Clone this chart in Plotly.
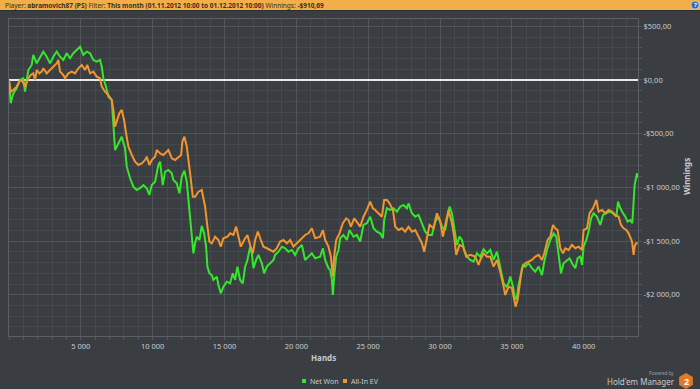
import plotly.graph_objects as go

# ---------------- data ----------------
net_hands = [0,118,300,536,766,997,1114,1344,1581,1692,1929,2277,2389,2625,2855,3085,3322,3552,3781,4018,4248,4478,4715,4944,5174,5411,5641,5871,6107,6337,6456,6567,6755,6915,7152,7264,7382,7500,7612,7848,8079,8197,8427,8657,8894,9123,9353,9589,9770,9938,10168,10397,10516,10704,10864,11094,11331,11442,11679,11860,12027,12208,12375,12487,12605,12723,12835,12953,13071,13252,13420,13580,13719,13810,13949,14116,14227,14464,14575,14742,14924,15161,15390,15578,15739,15899,16087,16275,16435,16595,16783,16901,17013,17201,17362,17598,17758,17946,18176,18406,18524,18754,18991,19220,19450,19687,19917,20147,20384,20613,20843,21080,21310,21658,21846,22006,22236,22354,22473,22542,22633,22772,22932,23051,23281,23518,23699,23977,24214,24444,24673,24910,25140,25370,25606,25836,26024,26115,26303,26533,26762,26999,27229,27459,27695,27807,28044,28274,28503,28740,28970,29200,29436,29666,29896,30133,30363,30523,30663,30829,30990,31178,31359,31526,31686,31874,32104,32334,32570,32800,33030,33267,33497,33727,33963,34075,34242,34423,34611,34771,34890,35078,35238,35356,35467,35586,35774,35934,36164,36401,36630,36860,37097,37257,37445,37675,37905,38093,38253,38420,38601,38838,39019,39186,39416,39576,39764,39883,39994,40182,40342,40510,40691,40928,41157,41345,41575,41805,42041,42271,42390,42550,42738,42898,43058,43246,43385,43476,43546,43615,43713,43760]
net_won = [0,-217,-124,-78,0,16,-109,93,140,233,155,249,264,217,155,217,264,217,186,249,202,249,279,310,233,264,249,186,171,186,124,16,-62,-155,-186,-435,-652,-621,-589,-528,-636,-807,-915,-993,-1024,-1008,-978,-1008,-1071,-978,-947,-791,-761,-978,-854,-838,-869,-931,-962,-1055,-900,-845,-947,-1117,-1334,-1490,-1614,-1521,-1459,-1490,-1359,-1428,-1552,-1738,-1800,-1816,-1862,-1831,-1909,-1986,-1924,-1878,-1893,-1800,-1862,-1738,-1862,-1893,-1738,-1676,-1552,-1614,-1753,-1676,-1629,-1707,-1800,-1738,-1707,-1676,-1629,-1599,-1552,-1567,-1599,-1583,-1629,-1567,-1536,-1676,-1645,-1614,-1660,-1645,-1567,-1676,-1753,-1769,-1862,-2002,-1831,-1645,-1583,-1474,-1443,-1490,-1397,-1459,-1443,-1505,-1350,-1334,-1273,-1381,-1412,-1428,-1474,-1304,-1195,-1210,-1195,-1226,-1180,-1164,-1195,-1148,-1241,-1273,-1257,-1334,-1412,-1443,-1443,-1319,-1273,-1366,-1397,-1273,-1180,-1241,-1397,-1536,-1459,-1490,-1583,-1645,-1676,-1692,-1614,-1645,-1576,-1614,-1583,-1676,-1599,-1676,-1800,-1893,-1924,-1893,-1831,-1924,-2048,-2018,-1909,-1846,-1722,-1738,-1707,-1753,-1785,-1738,-1816,-1692,-1583,-1490,-1428,-1459,-1645,-1800,-1707,-1676,-1660,-1707,-1753,-1660,-1645,-1722,-1552,-1490,-1412,-1288,-1241,-1273,-1350,-1257,-1241,-1226,-1241,-1273,-1133,-1195,-1241,-1273,-1319,-1304,-1334,-1117,-978,-931,-869,-910.69]

ev_hands = [0,118,300,536,766,954,1114,1344,1511,1692,1811,1929,2110,2277,2389,2625,2855,3085,3322,3433,3552,3781,3900,4130,4366,4596,4826,5063,5293,5453,5641,5871,6107,6337,6456,6685,6915,7152,7264,7382,7542,7681,7848,8009,8148,8308,8545,8775,9004,9241,9471,9589,9770,9938,10168,10286,10516,10745,11094,11331,11560,11790,11978,12069,12208,12375,12487,12605,12793,12953,13183,13420,13531,13649,13810,13949,14116,14346,14575,14742,14924,15203,15390,15620,15808,15969,16136,16365,16595,16783,16971,17131,17319,17528,17709,17946,18176,18406,18643,18873,19102,19339,19569,19799,20035,20384,20613,20843,21080,21310,21658,21846,22006,22236,22403,22542,22633,22772,23002,23239,23469,23629,23796,24026,24214,24444,24673,24910,25140,25328,25488,25718,25955,26115,26303,26484,26721,26881,27111,27348,27577,27807,28044,28274,28503,28740,28900,29088,29269,29547,29784,30014,30202,30363,30593,30829,30990,31129,31359,31596,31826,32104,32452,32682,32800,33030,33267,33497,33727,33963,34193,34423,34541,34771,35008,35168,35259,35398,35537,35705,35934,36164,36401,36630,36860,37097,37257,37487,37675,37863,38023,38184,38371,38559,38720,38950,39186,39416,39646,39883,39994,40231,40412,40649,40878,41038,41275,41505,41735,41971,42201,42431,42598,42779,42967,43127,43246,43364,43476,43546,43643,43760]
allin_ev = [0,-109,-93,-62,0,-16,-62,16,47,62,0,93,62,78,109,62,93,124,155,186,78,47,16,62,78,62,109,140,93,140,62,78,31,16,-62,-109,-140,-186,-279,-435,-372,-310,-279,-372,-496,-621,-698,-761,-791,-776,-745,-714,-791,-745,-714,-652,-683,-698,-652,-729,-745,-714,-698,-574,-528,-621,-776,-869,-1087,-1087,-1040,-1024,-1101,-1180,-1366,-1506,-1521,-1459,-1490,-1552,-1474,-1459,-1428,-1443,-1366,-1459,-1552,-1490,-1443,-1536,-1614,-1490,-1412,-1490,-1552,-1567,-1583,-1599,-1567,-1505,-1490,-1521,-1490,-1552,-1521,-1474,-1443,-1428,-1381,-1474,-1459,-1397,-1490,-1552,-1645,-1831,-1645,-1490,-1428,-1334,-1288,-1304,-1366,-1288,-1319,-1366,-1273,-1210,-1133,-1195,-1210,-1241,-1273,-1117,-1117,-1148,-1210,-1366,-1397,-1381,-1412,-1366,-1412,-1397,-1459,-1521,-1599,-1459,-1350,-1381,-1241,-1319,-1459,-1350,-1210,-1334,-1459,-1629,-1536,-1552,-1645,-1629,-1645,-1722,-1676,-1614,-1645,-1645,-1738,-1676,-1785,-1924,-2002,-1924,-1939,-2048,-2111,-2048,-1893,-1753,-1707,-1692,-1676,-1645,-1629,-1676,-1614,-1490,-1459,-1350,-1381,-1397,-1567,-1614,-1567,-1583,-1536,-1567,-1552,-1583,-1397,-1381,-1241,-1195,-1117,-1226,-1210,-1241,-1210,-1226,-1257,-1273,-1350,-1381,-1397,-1428,-1474,-1505,-1629,-1552,-1521,-1521]

series_names = ["Net Won", "All-In EV"]
x_tickvals = [5000, 10000, 15000, 20000, 25000, 30000, 35000, 40000]
x_ticktext = ["5 000", "10 000", "15 000", "20 000", "25 000", "30 000", "35 000", "40 000"]
y_tickvals = [500, 0, -500, -1000, -1500, -2000]
y_ticktext = ["$500,00", "$0,00", "-$500,00", "-$1 000,00", "-$1 500,00", "-$2 000,00"]

# ---------------- style ----------------
BG = "#3a3e42"
GREEN = "#35e62c"
ORANGE = "#f2952e"
TXT = "#c9cbcd"
FONT = "Noto Sans"
W, H = 700, 389
L, R, T, B = 9, 62, 19, 53
PW = W - L - R
PH = H - T - B
BOTTOM_PX = H - B     # pixel y of plot bottom edge

fig = go.Figure()
fig.add_trace(go.Scatter(x=net_hands, y=net_won, mode="lines", name=series_names[0],
                         line=dict(color=GREEN, width=2), hoverinfo="skip"))
fig.add_trace(go.Scatter(x=ev_hands, y=allin_ev, mode="lines", name=series_names[1],
                         line=dict(color=ORANGE, width=2), hoverinfo="skip"))

grid_major = "#51565b"
grid_minor = "#45494e"

fig.update_layout(
    width=W, height=H,
    margin=dict(l=L, r=R, t=T, b=B, pad=0),
    paper_bgcolor=BG, plot_bgcolor=BG,
    font=dict(family=FONT, size=8, color=TXT),
    showlegend=False,
    xaxis=dict(range=[0, 43780], tickvals=x_tickvals, ticktext=x_ticktext,
               showgrid=True, gridcolor=grid_major, gridwidth=1,
               minor=dict(dtick=1000, tick0=0, showgrid=True, gridcolor=grid_minor,
                          ticks="outside", ticklen=3, tickcolor=grid_major),
               ticks="outside", ticklen=3, tickcolor=grid_major,
               showline=True, linecolor="#5a5f64", linewidth=1, mirror=True,
               zeroline=False, tickfont=dict(size=7.5, color=TXT), automargin=False),
    yaxis=dict(range=[-2384, 568], side="right", tickvals=y_tickvals, ticktext=y_ticktext,
               showgrid=True, gridcolor=grid_major, gridwidth=1,
               minor=dict(dtick=100, tick0=0, showgrid=True, gridcolor=grid_minor,
                          ticks="outside", ticklen=3, tickcolor=grid_major),
               ticks="outside", ticklen=3, tickcolor=grid_major,
               showline=True, linecolor="#5a5f64", linewidth=1, mirror=True,
               zeroline=True, zerolinecolor="#e8e8e8", zerolinewidth=2,
               tickfont=dict(size=7.5, color=TXT), automargin=False),
)

def px_x(px):
    return (px - L) / PW

def px_y(py):
    return (BOTTOM_PX - py) / PH

# header bar
fig.add_shape(type="rect", xref="paper", yref="paper", x0=-0.05, x1=1.2,
              ysizemode="pixel", yanchor=1, y0=T - 10, y1=T + 2,
              fillcolor="#f2ae48", line=dict(width=0), layer="above")
fig.add_shape(type="rect", xref="paper", yref="paper", x0=-0.05, x1=1.2,
              ysizemode="pixel", yanchor=1, y0=T - 11, y1=T - 10,
              fillcolor="#2c2f32", line=dict(width=0), layer="above")
fig.add_annotation(xref="paper", yref="paper", x=px_x(3), y=px_y(5),
                   xanchor="left", yanchor="middle", showarrow=False,
                   text="Player: <b>abramovich87 (PS)</b> Filter: <b>This month (01.11.2012 10:00 to 01.12.2012 10:00)</b> Winnings: <b>-$910,69</b>",
                   font=dict(size=6.5, color="#3a3020", family=FONT))
# help icon
fig.add_shape(type="circle", xref="paper", yref="paper", x0=px_x(691), x1=px_x(699),
              y0=px_y(9), y1=px_y(1), fillcolor="#2a6fb5", line=dict(width=0.5, color="#ffffff"))
fig.add_annotation(xref="paper", yref="paper", x=px_x(695), y=px_y(5), xanchor="center",
                   yanchor="middle", showarrow=False, text="<b>?</b>",
                   font=dict(size=6, color="white"))

# axis titles
fig.add_annotation(xref="paper", yref="paper", x=px_x(323), y=px_y(357),
                   xanchor="center", yanchor="middle",
                   showarrow=False, text="<b>Hands</b>", font=dict(size=8, color=TXT))
fig.add_annotation(xref="paper", yref="paper", x=px_x(686), y=px_y(177),
                   showarrow=False, text="<b>Winnings</b>", textangle=-90,
                   font=dict(size=8, color=TXT), xanchor="center", yanchor="middle")

# legend (drawn manually so it does not move the plot area)
legend_items = [(series_names[0], GREEN, 304, 308), (series_names[1], ORANGE, 345, 349)]
for name, col, sx, tx in legend_items:
    fig.add_shape(type="rect", xref="paper", yref="paper", x0=px_x(sx - 2), x1=px_x(sx + 2),
                  y0=px_y(383), y1=px_y(379), fillcolor=col, line=dict(width=0))
    fig.add_annotation(xref="paper", yref="paper", x=px_x(tx), y=px_y(381),
                       xanchor="left", yanchor="middle", showarrow=False, text=name,
                       font=dict(size=7, color=TXT))

# powered-by logo
fig.add_annotation(xref="paper", yref="paper", x=px_x(676), y=px_y(373),
                   showarrow=False, text="Powered by", xanchor="right", yanchor="middle",
                   font=dict(size=4.5, color="#9a9da0"))
fig.add_annotation(xref="paper", yref="paper", x=px_x(677), y=px_y(381),
                   showarrow=False, text="Hold'em Manager", xanchor="right", yanchor="middle",
                   font=dict(size=8, color=TXT))
cx, cy, r = 686, 381, 8
hx = [cx, cx - 6.9, cx - 6.9, cx, cx + 6.9, cx + 6.9]
hy = [cy - r, cy - 4, cy + 4, cy + r, cy + 4, cy - 4]
hexpath = "M " + " L ".join("{:.5f},{:.5f}".format(px_x(a), px_y(b)) for a, b in zip(hx, hy)) + " Z"
fig.add_shape(type="path", xref="paper", yref="paper", path=hexpath,
              fillcolor="#e0782a", line=dict(width=0))
fig.add_annotation(xref="paper", yref="paper", x=px_x(cx), y=px_y(cy), xanchor="center",
                   yanchor="middle", showarrow=False, text="<b>2</b>",
                   font=dict(size=9, color="white"))

fig.write_html("out.html")
